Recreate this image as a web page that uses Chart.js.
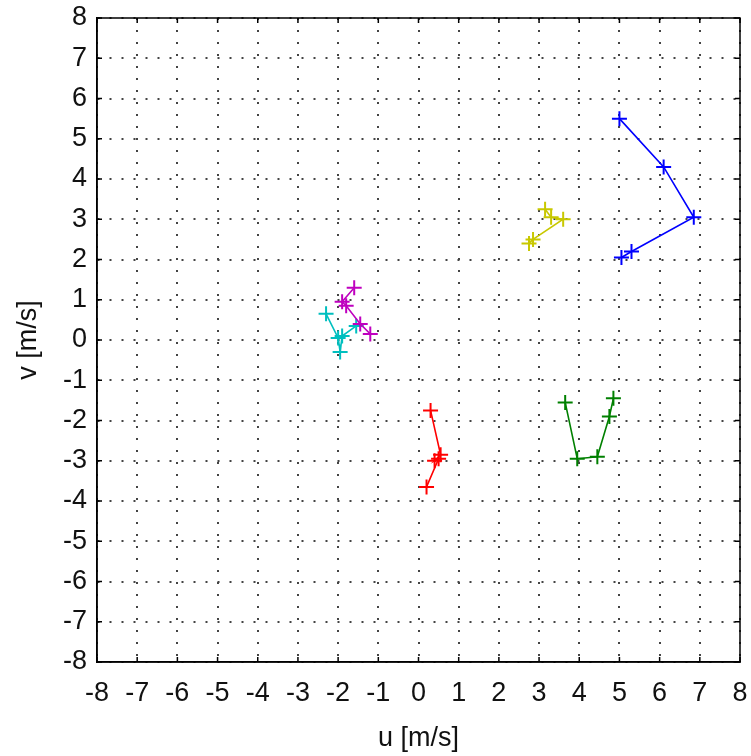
<!DOCTYPE html>
<html>
<head>
<meta charset="utf-8">
<script src="https://cdn.jsdelivr.net/npm/chart.js@4/dist/chart.umd.min.js"></script>
<style>
html,body{margin:0;padding:0;background:#fff;}
#wrap{width:751px;height:756px;}
</style>
</head>
<body>
<div id="wrap"><canvas id="c" width="751" height="756"></canvas></div>
<script>
// ---- data ----
const tickValues = [-8,-7,-6,-5,-4,-3,-2,-1,0,1,2,3,4,5,6,7,8];

const blueU    = [5.0, 6.1, 6.85, 5.3, 5.05];
const blueV    = [5.5, 4.3, 3.05, 2.2, 2.05];
const yellowU  = [2.75, 2.85, 3.6, 3.3, 3.15];
const yellowV  = [2.4, 2.5, 3.0, 3.05, 3.25];
const magentaU = [-1.6, -1.9, -1.8, -1.45, -1.2];
const magentaV = [1.3, 0.95, 0.85, 0.4, 0.15];
const cyanU    = [-2.3, -2.0, -1.95, -1.9, -1.55];
const cyanV    = [0.65, 0.05, -0.3, 0.1, 0.35];
const redU     = [0.3, 0.55, 0.4, 0.5, 0.2];
const redV     = [-1.75, -2.85, -3.0, -2.95, -3.65];
const greenU   = [3.65, 3.95, 4.45, 4.75, 4.85];
const greenV   = [-1.55, -2.95, -2.9, -1.9, -1.45];

const seriesDefs = [
  {u: blueU,    v: blueV,    color: 'rgb(0,0,255)'},
  {u: yellowU,  v: yellowV,  color: 'rgb(200,200,0)'},
  {u: magentaU, v: magentaV, color: 'rgb(191,0,191)'},
  {u: cyanU,    v: cyanV,    color: 'rgb(0,191,191)'},
  {u: redU,     v: redV,     color: 'rgb(255,0,0)'},
  {u: greenU,   v: greenV,   color: 'rgb(0,128,0)'}
];

const datasets = seriesDefs.map(s => ({
  data: s.u.map((x, i) => ({x: x, y: s.v[i]})),
  showLine: true,
  borderColor: s.color,
  backgroundColor: s.color,
  borderWidth: 1.6,
  pointStyle: 'cross',
  pointRadius: 7.5,
  pointBorderWidth: 2,
  pointBorderColor: s.color,
  tension: 0
}));

const FONT = {family: '"Liberation Sans", Arial, Helvetica, sans-serif', size: 27, lineHeight: 1.2};

const boxPlugin = {
  id: 'boxTicks',
  afterDatasetsDraw(chart) {
    const {ctx, chartArea: a, scales} = chart;
    ctx.save();
    ctx.strokeStyle = '#000';
    ctx.lineWidth = 1.5;
    ctx.strokeRect(a.left, a.top, a.right - a.left, a.bottom - a.top);
    const L = 5;
    ctx.beginPath();
    scales.x.ticks.forEach(t => {
      const px = scales.x.getPixelForValue(t.value);
      ctx.moveTo(px, a.bottom); ctx.lineTo(px, a.bottom - L);
      ctx.moveTo(px, a.top); ctx.lineTo(px, a.top + L);
    });
    scales.y.ticks.forEach(t => {
      const py = scales.y.getPixelForValue(t.value);
      ctx.moveTo(a.left, py); ctx.lineTo(a.left + L, py);
      ctx.moveTo(a.right, py); ctx.lineTo(a.right - L, py);
    });
    ctx.stroke();
    ctx.restore();
  }
};

new Chart(document.getElementById('c'), {
  type: 'scatter',
  data: {datasets},
  options: {
    responsive: false,
    animation: false,
    layout: {padding: {top: 18, right: 11, bottom: 0, left: 0}},
    plugins: {legend: {display: false}, tooltip: {enabled: false}},
    scales: {
      x: {
        type: 'linear', min: -8, max: 8,
        afterBuildTicks: s => { s.ticks = tickValues.map(v => ({value: v})); },
        afterFit: s => { s.height = 94; s.paddingLeft = 0; s.paddingRight = 0; },
        ticks: {color: '#111', font: FONT, padding: 15, maxRotation: 0, autoSkip: false},
        grid: {color: '#444', lineWidth: 2, drawTicks: false},
        border: {display: true, color: '#000', width: 1.5, dash: [2, 10]},
        title: {display: true, text: 'u [m/s]', color: '#111', font: FONT, padding: {top: 0, bottom: 1}}
      },
      y: {
        type: 'linear', min: -8, max: 8,
        afterBuildTicks: s => { s.ticks = tickValues.map(v => ({value: v})); },
        afterFit: s => { s.width = 97; s.paddingTop = 0; s.paddingBottom = 0; },
        ticks: {color: '#111', font: FONT, padding: 10, autoSkip: false},
        grid: {color: '#444', lineWidth: 2, drawTicks: false},
        border: {display: true, color: '#000', width: 1.5, dash: [2, 10]},
        title: {display: true, text: 'v [m/s]', color: '#111', font: FONT, padding: {top: 12, bottom: 0}}
      }
    }
  },
  plugins: [boxPlugin]
});
</script>
</body>
</html>
